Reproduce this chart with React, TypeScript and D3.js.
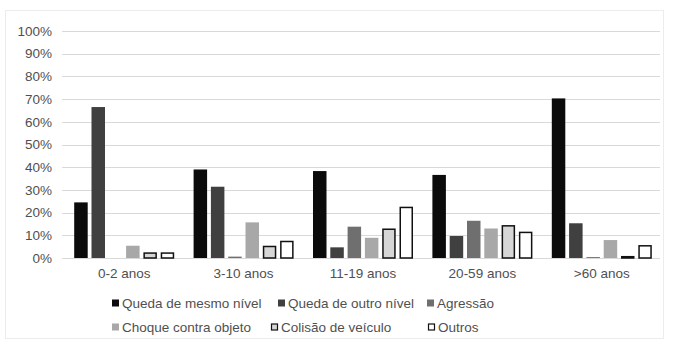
import React from "react";
import * as d3 from "d3";

// Age groups along the x axis
const categories = ["0-2 anos", "3-10 anos", "11-19 anos", "20-59 anos", ">60 anos"];

// Injury mechanism series (share of cases per age group)
const seriesNames = [
  "Queda de mesmo nível",
  "Queda de outro nível",
  "Agressão",
  "Choque contra objeto",
  "Colisão de veículo",
  "Outros",
];

const quedaMesmoNivel = [0.245, 0.39, 0.383, 0.366, 0.703];
const quedaOutroNivel = [0.665, 0.314, 0.047, 0.097, 0.153];
const agressao = [0.0, 0.006, 0.138, 0.164, 0.004];
const choqueObjeto = [0.054, 0.157, 0.089, 0.13, 0.079];
const colisaoVeiculo = [0.025, 0.054, 0.13, 0.145, 0.009];
const outros = [0.025, 0.076, 0.226, 0.116, 0.057];

const seriesValues = [quedaMesmoNivel, quedaOutroNivel, agressao, choqueObjeto, colisaoVeiculo, outros];

const yTicks = [0, 0.1, 0.2, 0.3, 0.4, 0.5, 0.6, 0.7, 0.8, 0.9, 1.0];

const fills = ["#0b0b0b", "#404040", "#6f6f6f", "#a8a8a8", "#d6d6d6", "#ffffff"];
const strokes = ["none", "none", "none", "none", "#111111", "#111111"];

const W = 678;
const H = 345;
const FONT = "'Liberation Sans', Arial, sans-serif";

export default function App() {
  const x = d3.scaleBand<string>().domain(categories).range([64.5, 661.5]).padding(0);
  const inner = d3
    .scaleBand<string>()
    .domain(seriesNames)
    .range([0, 100])
    .paddingInner(0.22)
    .paddingOuter(0);
  const y = d3.scaleLinear().domain([0, 1]).range([258, 31]);
  const fmt = d3.format(".0%");

  const groupOffset = (x.bandwidth() - 100) / 2;

  // Legend layout: two rows of three entries
  const legendPos = [
    { x: 112, y: 303 },
    { x: 278, y: 303 },
    { x: 427, y: 303 },
    { x: 112, y: 327 },
    { x: 271, y: 327 },
    { x: 428, y: 327 },
  ];

  return (
    <svg
      width={W}
      height={H}
      style={{ position: "absolute", left: 0, top: 0, background: "#ffffff" }}
      fontFamily={FONT}
    >
      <rect x={5.5} y={10.5} width={658} height={328} fill="#ffffff" stroke="#ececec" />

      {/* gridlines and y-axis labels */}
      {yTicks.map((t) => (
        <g key={t}>
          <line x1={62} x2={660} y1={Math.round(y(t)) + 0.5} y2={Math.round(y(t)) + 0.5} stroke="#d9d9d9" />
          <text
            x={52}
            y={y(t)}
            dy="0.35em"
            textAnchor="end"
            fontSize={13.5}
            fill="#505050"
          >
            {fmt(t)}
          </text>
        </g>
      ))}

      {/* bars */}
      {categories.map((c, ci) => (
        <g key={c} transform={`translate(${(x(c) ?? 0) + groupOffset},0)`}>
          {seriesNames.map((s, si) => {
            const v = seriesValues[si][ci];
            if (v <= 0) return null;
            const top = y(v);
            const hasStroke = strokes[si] !== "none";
            return (
              <rect
                key={s}
                x={(inner(s) ?? 0) + (hasStroke ? 0.75 : 0)}
                y={top + (hasStroke ? 0.75 : 0)}
                width={inner.bandwidth() - (hasStroke ? 1.5 : 0)}
                height={Math.max(y(0) - top - (hasStroke ? 0.75 : 0), 0.8)}
                fill={fills[si]}
                stroke={strokes[si]}
                strokeWidth={1.5}
              />
            );
          })}
        </g>
      ))}

      {/* x-axis labels */}
      {categories.map((c) => (
        <text
          key={c}
          x={(x(c) ?? 0) + x.bandwidth() / 2}
          y={278}
          textAnchor="middle"
          fontSize={13.5}
          fill="#505050"
        >
          {c}
        </text>
      ))}

      {/* legend */}
      {seriesNames.map((s, si) => {
        const p = legendPos[si];
        const hasStroke = strokes[si] !== "none";
        return (
          <g key={s} transform={`translate(${p.x},${p.y})`}>
            <rect
              x={hasStroke ? 0.5 : 0}
              y={-3.5 + (hasStroke ? 0.5 : 0)}
              width={hasStroke ? 6 : 7}
              height={hasStroke ? 6 : 7}
              fill={fills[si]}
              stroke={strokes[si]}
              strokeWidth={1.2}
            />
            <text x={10} y={0} dy="0.35em" fontSize={13.5} fill="#505050">
              {s}
            </text>
          </g>
        );
      })}
    </svg>
  );
}
